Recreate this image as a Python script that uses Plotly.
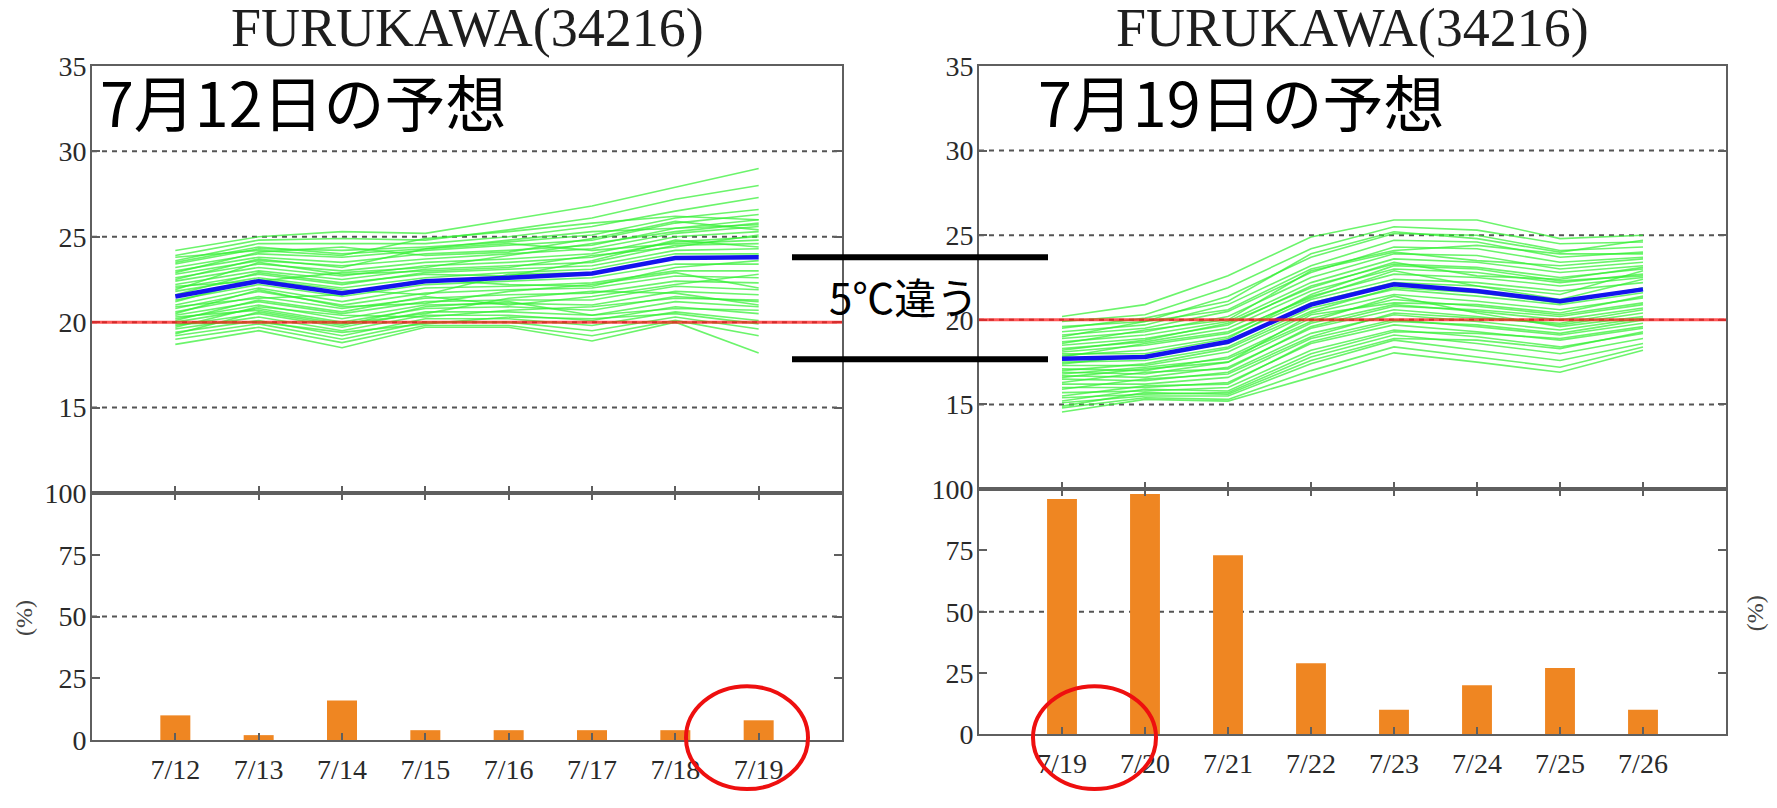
import plotly.graph_objects as go

# ---- data -------------------------------------------------------------
dates_a = ["7/12", "7/13", "7/14", "7/15", "7/16", "7/17", "7/18", "7/19"]
dates_b = ["7/19", "7/20", "7/21", "7/22", "7/23", "7/24", "7/25", "7/26"]

# ensemble mean of daily temperature (deg C)
mean_a = [21.5, 22.4, 21.7, 22.4, 22.6, 22.85, 23.75, 23.8]
mean_b = [17.7, 17.8, 18.7, 20.9, 22.1, 21.7, 21.1, 21.8]

# individual ensemble members (deg C)
members_a = [
    [24.2, 25.0, 25.3, 25.2, 26.0, 26.8, 27.9, 29.0],
    [23.9, 24.8, 24.9, 24.8, 25.4, 26.1, 27.2, 28.0],
    [23.6, 24.6, 24.6, 24.6, 25.0, 25.6, 26.5, 27.3],
    [23.4, 24.3, 24.2, 24.4, 24.7, 25.1, 26.1, 26.6],
    [23.2, 24.0, 23.8, 24.2, 24.5, 24.8, 25.8, 26.3],
    [23.0, 23.8, 23.5, 24.0, 24.2, 24.5, 25.5, 26.0],
    [22.8, 23.6, 23.3, 23.7, 24.0, 24.3, 25.2, 25.6],
    [22.6, 23.4, 23.0, 23.5, 23.7, 24.0, 25.0, 25.3],
    [22.4, 23.2, 22.7, 23.3, 23.5, 23.8, 24.7, 25.0],
    [22.2, 23.0, 22.5, 23.1, 23.3, 23.5, 24.5, 24.6],
    [22.0, 22.8, 22.2, 22.9, 23.1, 23.3, 24.2, 24.3],
    [21.8, 22.6, 22.0, 22.6, 22.9, 23.1, 24.0, 24.0],
    [21.3, 22.2, 21.5, 22.2, 22.4, 22.6, 23.4, 23.4],
    [21.0, 22.0, 21.2, 22.0, 22.1, 22.3, 23.0, 23.0],
    [20.8, 21.8, 21.0, 21.7, 21.9, 22.0, 22.7, 22.6],
    [20.6, 21.5, 20.8, 21.4, 21.6, 21.7, 22.4, 22.3],
    [20.4, 21.2, 20.5, 21.2, 21.3, 21.3, 22.1, 21.9],
    [20.2, 21.0, 20.2, 21.0, 21.1, 21.0, 21.8, 21.6],
    [20.0, 20.8, 20.0, 20.8, 20.9, 20.7, 21.5, 21.2],
    [19.8, 20.5, 19.7, 20.6, 20.6, 20.4, 21.2, 20.9],
    [19.6, 20.3, 19.5, 20.4, 20.4, 20.1, 20.9, 20.5],
    [19.4, 20.1, 19.2, 20.2, 20.2, 19.8, 20.6, 20.1],
    [19.2, 19.9, 19.0, 20.0, 20.0, 19.5, 20.3, 19.6],
    [19.0, 19.7, 18.8, 19.8, 19.8, 19.2, 20.1, 19.2],
    [18.7, 19.5, 18.5, 19.7, 19.7, 18.9, 20.0, 18.2],
    [23.8, 24.2, 23.9, 24.9, 25.3, 25.8, 26.2, 26.0],
    [22.9, 24.1, 24.4, 23.9, 24.1, 24.9, 25.9, 25.4],
    [22.5, 23.7, 23.2, 24.3, 24.6, 24.2, 24.6, 24.8],
    [22.1, 22.4, 22.9, 23.2, 23.9, 24.6, 25.3, 25.8],
    [21.6, 22.9, 22.3, 22.8, 22.7, 23.6, 24.8, 24.4],
    [21.2, 22.5, 21.9, 21.6, 22.8, 22.9, 23.7, 23.9],
    [20.9, 21.4, 21.6, 22.5, 22.2, 22.1, 23.2, 23.6],
    [20.5, 21.9, 20.9, 21.1, 21.8, 22.2, 22.9, 22.0],
    [20.1, 21.3, 20.6, 21.5, 21.0, 21.5, 22.2, 22.8],
    [19.7, 20.9, 20.4, 20.3, 20.7, 20.9, 21.4, 21.3],
    [19.3, 20.6, 19.8, 20.9, 21.2, 20.4, 20.8, 20.7],
    [19.9, 20.0, 19.4, 19.9, 20.3, 20.2, 20.5, 19.9],
    [21.9, 23.5, 22.8, 23.0, 23.2, 23.9, 24.4, 25.1],
    [23.5, 24.4, 24.0, 24.3, 24.8, 25.3, 25.5, 25.7],
    [20.3, 20.7, 19.9, 20.5, 21.4, 21.8, 21.7, 21.0],
]
members_b = [
    [20.2, 20.9, 22.6, 24.9, 25.9, 25.9, 24.8, 25.0],
    [19.9, 20.3, 21.9, 24.2, 25.5, 25.3, 24.5, 24.6],
    [19.6, 19.9, 21.4, 23.7, 25.1, 25.0, 24.1, 24.3],
    [19.3, 19.7, 20.9, 23.2, 24.7, 24.6, 23.7, 24.0],
    [19.1, 19.5, 20.5, 22.8, 24.3, 24.2, 23.4, 23.7],
    [18.9, 19.3, 20.2, 22.5, 23.9, 23.8, 23.0, 23.4],
    [18.7, 19.1, 19.9, 22.2, 23.6, 23.4, 22.8, 23.2],
    [18.5, 18.9, 19.7, 22.0, 23.3, 23.1, 22.5, 23.0],
    [18.3, 18.7, 19.5, 21.7, 23.0, 22.8, 22.2, 22.7],
    [18.1, 18.5, 19.2, 21.4, 22.7, 22.5, 22.0, 22.5],
    [17.9, 18.2, 19.0, 21.2, 22.4, 22.2, 21.7, 22.2],
    [17.5, 17.6, 18.4, 20.7, 21.8, 21.4, 20.9, 21.6],
    [17.3, 17.3, 18.1, 20.4, 21.5, 21.1, 20.6, 21.3],
    [17.1, 17.0, 17.8, 20.1, 21.2, 20.8, 20.3, 21.0],
    [16.9, 16.8, 17.5, 19.8, 20.9, 20.5, 20.0, 20.7],
    [16.7, 16.6, 17.2, 19.5, 20.6, 20.2, 19.7, 20.4],
    [16.5, 16.4, 16.9, 19.2, 20.3, 19.9, 19.4, 20.1],
    [16.2, 16.2, 16.6, 18.9, 20.0, 19.6, 19.1, 19.8],
    [16.0, 16.0, 16.3, 18.6, 19.7, 19.3, 18.8, 19.5],
    [15.7, 15.8, 16.0, 18.2, 19.4, 19.0, 18.4, 19.2],
    [15.4, 15.6, 15.7, 17.8, 19.1, 18.6, 18.0, 18.9],
    [15.1, 15.5, 15.5, 17.4, 18.8, 18.2, 17.6, 18.6],
    [14.8, 15.4, 15.3, 17.0, 18.4, 17.8, 17.2, 18.4],
    [14.55, 15.3, 15.2, 16.6, 18.05, 17.5, 16.9, 18.2],
    [19.5, 20.1, 21.1, 23.9, 25.2, 24.8, 24.0, 24.7],
    [19.0, 19.9, 20.6, 23.0, 24.1, 24.4, 23.9, 23.9],
    [18.6, 19.4, 20.0, 22.9, 24.0, 23.5, 23.2, 23.6],
    [18.2, 18.8, 19.8, 21.9, 23.4, 22.6, 22.4, 23.1],
    [17.8, 18.6, 19.3, 21.3, 22.9, 22.0, 21.5, 22.9],
    [17.4, 17.9, 18.6, 21.0, 22.2, 22.0, 21.2, 22.4],
    [17.0, 17.4, 18.3, 20.5, 21.9, 21.6, 21.0, 21.9],
    [16.6, 17.1, 17.5, 20.3, 21.0, 20.9, 20.4, 21.4],
    [16.3, 16.9, 17.1, 19.6, 20.8, 20.6, 20.2, 20.9],
    [15.9, 16.5, 16.8, 19.0, 20.4, 20.1, 19.8, 20.6],
    [15.5, 16.1, 16.2, 18.7, 19.9, 19.7, 19.2, 20.0],
    [15.2, 15.9, 15.8, 18.0, 19.3, 19.2, 18.9, 19.6],
    [14.9, 15.7, 15.6, 17.6, 18.9, 18.8, 18.3, 19.3],
    [18.0, 18.0, 18.9, 21.5, 23.2, 23.0, 22.3, 22.6],
    [16.8, 17.2, 17.7, 19.9, 21.4, 20.4, 19.6, 20.2],
]

# probability (%) of the lower-temperature category
rain_a = [10, 2, 16, 4, 4, 4, 4, 8]
rain_b = [96, 98, 73, 29, 10, 20, 27, 10]

temp_ticks = [15, 20, 25, 30, 35]
temp_grid = [15, 20, 25, 30]
prob_ticks = [0, 25, 50, 75, 100]
prob_grid = [50]
threshold = 20

station = "FURUKAWA(34216)"
labels = ["7月12日の予想", "7月19日の予想"]
diff_label = "5℃違う"

# ---- layout helpers ---------------------------------------------------
W, H = 1777, 808


def fx(px):
    return px / W


def fy(px):
    return 1 - px / H


GREEN = "rgba(50,240,50,0.72)"
BLUE = "#1414ee"
ORANGE = "#ef8622"
AXIS = "#5f5f5f"
TICKC = "#2a2a2a"
SERIF = "Liberation Serif"
CJK = "Noto Sans CJK JP"

panels = [
    dict(dates=dates_a, members=members_a, mean=mean_a, rain=rain_a,
         xt="x", yt="y", xb="x2", yb="y2",
         xdom=[fx(92), fx(842)], tdom=[fy(497), fy(53)], bdom=[fy(754), fy(497)]),
    dict(dates=dates_b, members=members_b, mean=mean_b, rain=rain_b,
         xt="x3", yt="y3", xb="x4", yb="y4",
         xdom=[fx(979), fx(1726)], tdom=[fy(493), fy(53)], bdom=[fy(748), fy(493)]),
]

fig = go.Figure()
shapes = []

for p in panels:
    idx = list(range(len(p["dates"])))
    for m in p["members"]:
        fig.add_trace(go.Scatter(x=idx, y=m, mode="lines", xaxis=p["xt"], yaxis=p["yt"],
                                 line=dict(color=GREEN, width=1.6),
                                 hoverinfo="skip", showlegend=False))
    fig.add_trace(go.Scatter(x=idx, y=p["mean"], mode="lines", xaxis=p["xt"], yaxis=p["yt"],
                             line=dict(color=BLUE, width=4.5),
                             hoverinfo="skip", showlegend=False))
    fig.add_trace(go.Bar(x=idx, y=p["rain"], xaxis=p["xb"], yaxis=p["yb"], width=0.36,
                         marker=dict(color=ORANGE, line=dict(width=0)),
                         hoverinfo="skip", showlegend=False))

    xt, yt, xb, yb = p["xt"], p["yt"], p["xb"], p["yb"]
    for g in temp_grid:
        shapes.append(dict(type="line", xref=f"{xt} domain", yref=yt, x0=0, x1=1, y0=g, y1=g,
                           line=dict(color="#555", width=2, dash="5px,5px"), layer="below"))
    for g in prob_grid:
        shapes.append(dict(type="line", xref=f"{xb} domain", yref=yb, x0=0, x1=1, y0=g, y1=g,
                           line=dict(color="#555", width=2, dash="5px,5px"), layer="below"))
    shapes.append(dict(type="line", xref=f"{xt} domain", yref=yt, x0=0, x1=1,
                       y0=threshold, y1=threshold,
                       line=dict(color="rgba(255,30,30,0.75)", width=3), layer="above"))

common_x = dict(range=[-1, 8], tickmode="array", tickvals=list(range(8)),
                ticks="inside", ticklen=7, tickwidth=2, tickcolor=AXIS,
                showline=True, linecolor=AXIS, linewidth=2,
                showgrid=False, zeroline=False, fixedrange=True)
common_y = dict(ticks="inside", ticklen=8, tickwidth=2, tickcolor=AXIS,
                showline=True, linecolor=AXIS, linewidth=2, mirror="ticks",
                showgrid=False, zeroline=False, fixedrange=True,
                tickfont=dict(family=SERIF, size=28, color=TICKC),
                ticklabelstandoff=-2)

layout_axes = {}
for n, p in enumerate(panels):
    base = 2 * n
    xt_name = "xaxis" if base == 0 else f"xaxis{base + 1}"
    yt_name = "yaxis" if base == 0 else f"yaxis{base + 1}"
    xb_name = f"xaxis{base + 2}"
    yb_name = f"yaxis{base + 2}"
    layout_axes[xt_name] = dict(common_x, domain=p["xdom"], anchor=p["yt"],
                                showticklabels=False, mirror=True)
    layout_axes[yt_name] = dict(common_y, domain=p["tdom"], anchor=p["xt"],
                                range=[10, 35], tickvals=temp_ticks)
    layout_axes[xb_name] = dict(common_x, domain=p["xdom"], anchor=p["yb"],
                                ticktext=p["dates"], mirror="ticks",
                                tickfont=dict(family=SERIF, size=28, color=TICKC),
                                ticklabelstandoff=3)
    layout_axes[yb_name] = dict(common_y, domain=p["bdom"], anchor=p["xb"],
                                range=[0, 100], tickvals=prob_ticks)

# bracket marking the temperature gap between the two forecasts
for ypx in (252, 358):
    shapes.append(dict(type="line", xref="paper", yref="paper",
                       x0=fx(792), x1=fx(1048), y0=fy(ypx), y1=fy(ypx),
                       line=dict(color="black", width=6), layer="above"))

# circles around the shared date 7/19
for (x0, x1) in ((686, 808), (1033, 1156)):
    shapes.append(dict(type="circle", xref="paper", yref="paper",
                       x0=fx(x0), x1=fx(x1), y0=fy(805), y1=fy(698),
                       line=dict(color="#ee0f0f", width=4), layer="above"))

annotations = []
for p, lab, lx in zip(panels, labels, (98, 1036)):
    cx = (p["xdom"][0] + p["xdom"][1]) / 2
    annotations.append(dict(text=station, x=cx, y=fy(13), xref="paper", yref="paper",
                            xanchor="center", yanchor="middle", showarrow=False,
                            borderpad=0,
                            font=dict(family=SERIF, size=54, color="#1e1e1e")))
    annotations.append(dict(text=lab, x=fx(lx), y=fy(89), xref="paper", yref="paper",
                            xanchor="left", yanchor="middle", showarrow=False,
                            font=dict(family=CJK, size=61, color="black")))

annotations.append(dict(text=diff_label, x=fx(904), y=fy(292), xref="paper", yref="paper",
                        xanchor="center", yanchor="middle", showarrow=False,
                        font=dict(family=CJK, size=42, color="black")))
for (ax, ay) in ((24, 627), (1755, 622)):
    annotations.append(dict(text="(%)", x=fx(ax), y=fy(ay), xref="paper", yref="paper",
                            xanchor="center", yanchor="middle", showarrow=False, textangle=-90,
                            font=dict(family=SERIF, size=24, color="#444")))

fig.update_layout(width=W, height=H, margin=dict(l=0, r=0, t=0, b=0),
                  paper_bgcolor="white", plot_bgcolor="white",
                  showlegend=False, shapes=shapes, annotations=annotations,
                  **layout_axes)

fig.write_html("out.html", config={"displayModeBar": False})
